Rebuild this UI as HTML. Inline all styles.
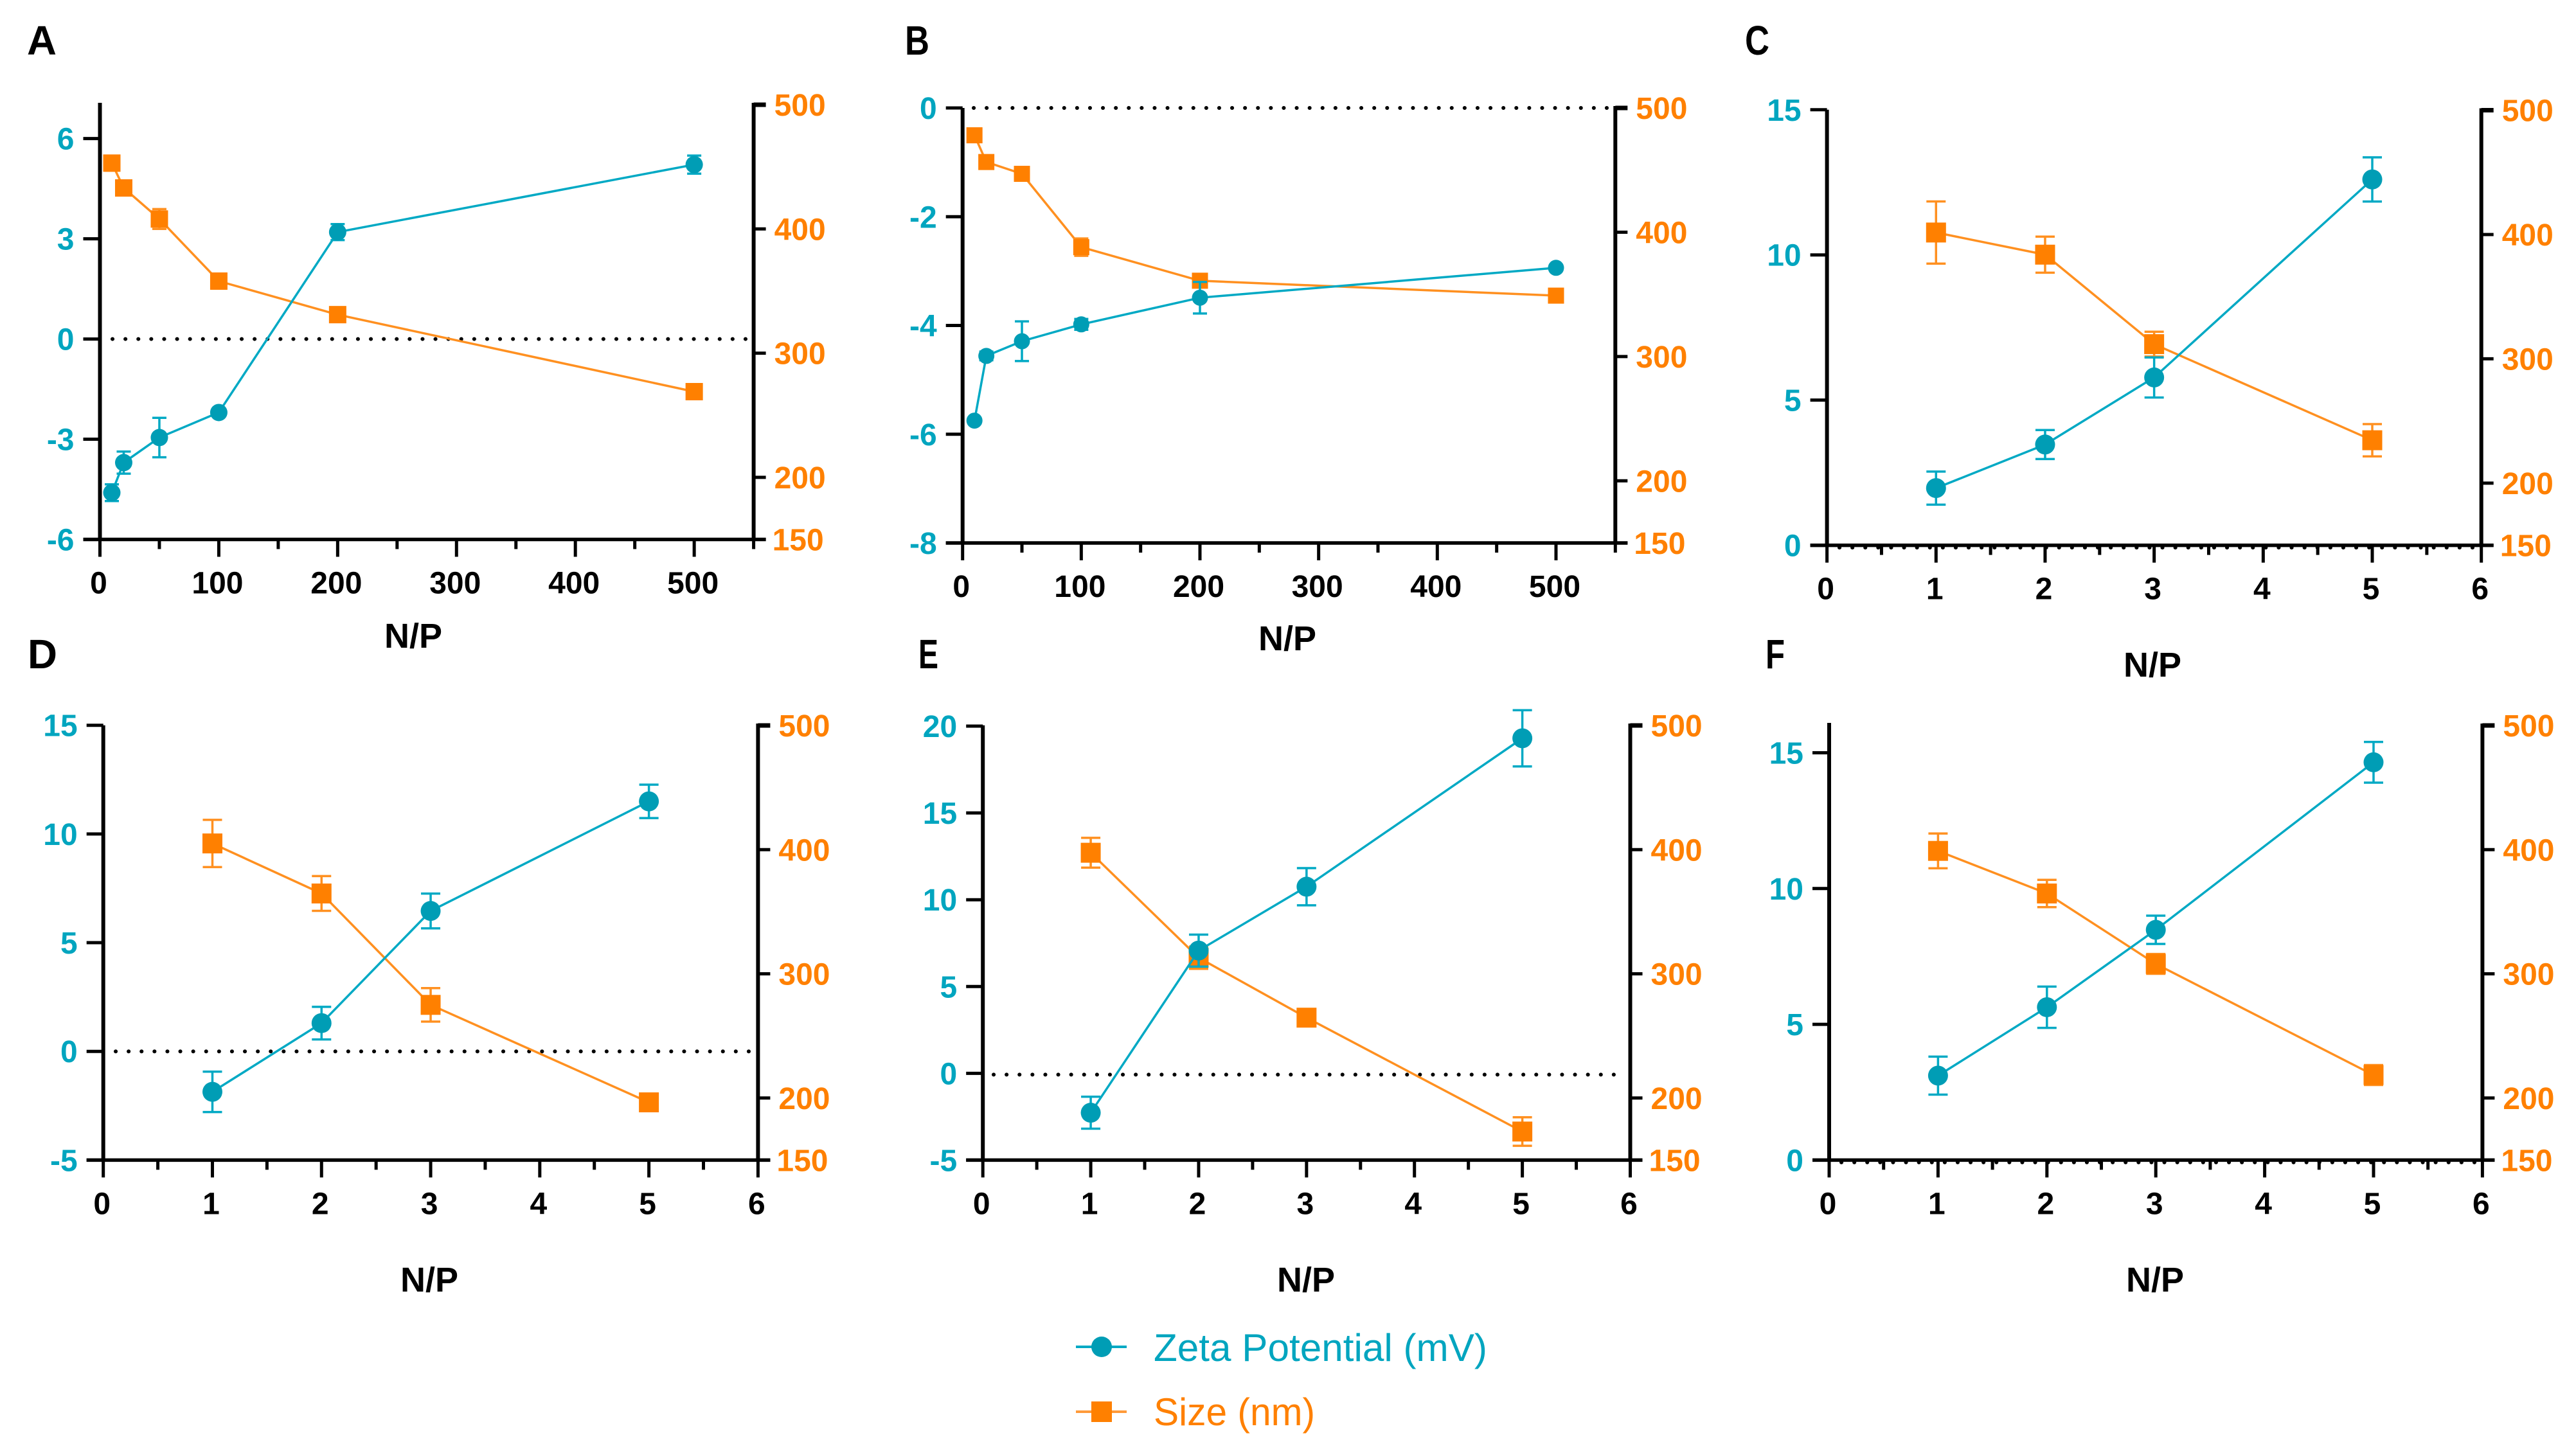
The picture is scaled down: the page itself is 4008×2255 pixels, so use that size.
<!DOCTYPE html>
<html lang="en">
<head>
<meta charset="utf-8">
<title>Zeta Potential and Size versus N/P</title>
<style>
html,body{margin:0;padding:0;background:#fff;}
body{width:4008px;height:2255px;overflow:hidden;position:relative;}
svg{position:absolute;left:0;top:0;display:block;}
text{font-family:"Liberation Sans",Arial,sans-serif;}
</style>
</head>
<body>
<svg id="figure" xmlns="http://www.w3.org/2000/svg" width="4008" height="2255" viewBox="0 0 4008 2255">
  <rect x="0" y="0" width="4008" height="2255" fill="#ffffff"/>
  <g id="charts"></g>
  <text x="42" y="85" font-size="64" font-weight="700" fill="#000" textLength="46" lengthAdjust="spacingAndGlyphs">A</text>
  <text x="1408" y="85" font-size="64" font-weight="700" fill="#000" textLength="38" lengthAdjust="spacingAndGlyphs">B</text>
  <text x="2715" y="85" font-size="64" font-weight="700" fill="#000" textLength="38" lengthAdjust="spacingAndGlyphs">C</text>
  <text x="43" y="1040" font-size="64" font-weight="700" fill="#000" textLength="46" lengthAdjust="spacingAndGlyphs">D</text>
  <text x="1429" y="1040" font-size="64" font-weight="700" fill="#000" textLength="31" lengthAdjust="spacingAndGlyphs">E</text>
  <text x="2747" y="1040" font-size="64" font-weight="700" fill="#000" textLength="30" lengthAdjust="spacingAndGlyphs">F</text>
  <g>
    <g>
      <line x1="1674" y1="2096" x2="1753" y2="2096" stroke="#00A9C4" stroke-width="4"/>
      <circle cx="1714" cy="2096" r="16" fill="#009DB5"/>
      <text x="1795" y="2118" font-size="60" fill="#00A5BF" textLength="519" lengthAdjust="spacingAndGlyphs">Zeta Potential (mV)</text>
    </g>
    <g>
      <line x1="1674" y1="2197" x2="1753" y2="2197" stroke="#FF9A3A" stroke-width="4"/>
      <rect x="1698" y="2181" width="32" height="32" fill="#FF8000"/>
      <text x="1795" y="2218" font-size="60" fill="#FF8000" textLength="251" lengthAdjust="spacingAndGlyphs">Size (nm)</text>
    </g>
  </g>
</svg>
<script>
// ---- shared tick values ----
const sizeTicks = [150, 200, 300, 400, 500];
const wideXTicks = [0, 100, 200, 300, 400, 500];
const wideXMinor = [50, 150, 250, 350, 450, 550];
const narrowXTicks = [0, 1, 2, 3, 4, 5, 6];
const narrowXMinor = [0.5, 1.5, 2.5, 3.5, 4.5, 5.5];

// ---- panel A ----
const aNP = [10, 20, 50, 100, 200, 500];
const aZeta = [-4.6, -3.7, -2.95, -2.2, 3.2, 5.22];
const aZetaErr = [0.25, 0.33, 0.59, 0.1, 0.24, 0.27];
const aSize = [453, 433, 408, 358, 331, 269];
const aSizeErr = [6, 5, 8, 6, 5, 4];
const aZetaTicks = [-6, -3, 0, 3, 6];

// ---- panel B ----
const bNP = [10, 20, 50, 100, 200, 500];
const bZeta = [-5.75, -4.56, -4.29, -3.98, -3.49, -2.94];
const bZetaErr = [0.05, 0.08, 0.365, 0.1, 0.29, 0.05];
const bSize = [478, 456.5, 447, 388, 361, 349];
const bSizeErr = [3, 3, 3, 7, 5, 2];
const bZetaTicks = [-8, -6, -4, -2, 0];

// ---- panel C ----
const cNP = [1, 2, 3, 5];
const cZeta = [1.97, 3.47, 5.78, 12.6];
const cZetaErr = [0.57, 0.5, 0.69, 0.76];
const cSize = [401.6, 383.8, 311.8, 234.5];
const cSizeErr = [25, 14.5, 10, 13];
const cZetaTicks = [0, 5, 10, 15];

// ---- panel D ----
const dNP = [1, 2, 3, 5];
const dZeta = [-1.86, 1.3, 6.46, 11.5];
const dZetaErr = [0.93, 0.75, 0.8, 0.77];
const dSize = [405, 364.7, 275, 196.5];
const dSizeErr = [19, 14, 13.5, 4];
const dZetaTicks = [-5, 0, 5, 10, 15];

// ---- panel E ----
const eNP = [1, 2, 3, 5];
const eZeta = [-2.27, 7.07, 10.75, 19.3];
const eZetaErr = [0.92, 0.92, 1.07, 1.62];
const eSize = [397.5, 313, 264.7, 173];
const eSizeErr = [12, 9, 5, 11.5];
const eZetaTicks = [-5, 0, 5, 10, 15, 20];

// ---- panel F ----
const fNP = [1, 2, 3, 5];
const fZeta = [3.11, 5.63, 8.48, 14.65];
const fZetaErr = [0.7, 0.76, 0.52, 0.75];
const fSize = [399, 364.7, 308, 218.5];
const fSizeErr = [14, 11, 8, 8];
const fZetaTicks = [0, 5, 10, 15];

// ---- layout only (no data values) ----
const wideX = {xMin: 0, xMax: 550, xTicks: wideXTicks, xMinor: wideXMinor};
const narrowX = {xMin: 0, xMax: 6, xTicks: narrowXTicks, xMinor: narrowXMinor};
const panels = [
  {id:'a', axisX:wideX, left:155.5, right:1172.6, top:160, bottom:839.5, rightTop:163, yMin:-6, yMax:7.07, r:13.5, sq:27, cap:22, titleX:643, titleY:1008,
   np:aNP, zeta:aZeta, zetaErr:aZetaErr, size:aSize, sizeErr:aSizeErr, zetaTicks:aZetaTicks, dotFrom:175, dotTo:1160, dotDy:0},
  {id:'b', axisX:wideX, left:1497.7, right:2513.3, top:168, bottom:845, rightTop:168, yMin:-8, yMax:0, r:12.5, sq:25, cap:22, titleX:2003, titleY:1012,
   np:bNP, zeta:bZeta, zetaErr:bZetaErr, size:bSize, sizeErr:bSizeErr, zetaTicks:bZetaTicks, dotFrom:1515, dotTo:2500, dotDy:0},
  {id:'c', axisX:narrowX, left:2842.6, right:3860.7, top:170.8, bottom:848.6, rightTop:171.5, yMin:0, yMax:15, r:15.5, sq:31, cap:30, titleX:3349, titleY:1053,
   np:cNP, zeta:cZeta, zetaErr:cZetaErr, size:cSize, sizeErr:cSizeErr, zetaTicks:cZetaTicks, dotFrom:2862, dotTo:3850, dotDy:3.5},
  {id:'d', axisX:narrowX, left:160.7, right:1179.4, top:1128.7, bottom:1805.4, rightTop:1129, yMin:-5, yMax:15, r:15.5, sq:31, cap:30, titleX:668, titleY:2010,
   np:dNP, zeta:dZeta, zetaErr:dZetaErr, size:dSize, sizeErr:dSizeErr, zetaTicks:dZetaTicks, dotFrom:180, dotTo:1165, dotDy:0},
  {id:'e', axisX:narrowX, left:1529.2, right:2536.5, top:1128.7, bottom:1805.4, rightTop:1129, yMin:-5, yMax:20.05, r:15.5, sq:31, cap:30, titleX:2032, titleY:2010,
   np:eNP, zeta:eZeta, zetaErr:eZetaErr, size:eSize, sizeErr:eSizeErr, zetaTicks:eZetaTicks, dotFrom:1546, dotTo:2525, dotDy:2},
  {id:'f', axisX:narrowX, left:2846, right:3862.4, top:1125, bottom:1805.4, rightTop:1129, yMin:0, yMax:16.1, r:15.5, sq:31, cap:30, titleX:3353, titleY:2010,
   np:fNP, zeta:fZeta, zetaErr:fZetaErr, size:fSize, sizeErr:fSizeErr, zetaTicks:fZetaTicks, dotFrom:2865, dotTo:3855, dotDy:3.5}
];

const SVGNS = 'http://www.w3.org/2000/svg';
const BLUE_TEXT = '#00A5BF', BLUE_LINE = '#00A9C4', BLUE_MARK = '#009DB5';
const ORANGE_TEXT = '#FF8000', ORANGE_LINE = '#FF9020', ORANGE_MARK = '#FF8000';
const SIZE_MIN = 150, SIZE_MAX = 500;
const TICK_FONT = 48;

function make(tag, parent, attrs) {
  const el = document.createElementNS(SVGNS, tag);
  for (const k in attrs) el.setAttribute(k, attrs[k]);
  parent.appendChild(el);
  return el;
}

function drawSeries(group, p, key, xs, ys, errs, sy, lineColor, markColor, isCircle) {
  const x = v => p.sx(v);
  const pts = xs.map((v, i) => x(v).toFixed(1) + ',' + sy(ys[i]).toFixed(1)).join(' ');
  const line = make('polyline', group, {points: pts, fill: 'none', stroke: lineColor, 'stroke-width': 3.5});
  
  
  xs.forEach((v, i) => {
    const cx = x(v), cy = sy(ys[i]), hi = sy(ys[i] + errs[i]), lo = sy(ys[i] - errs[i]), c = p.cap / 2;
    const err = make('path', group, {
      d: 'M' + (cx - c) + ' ' + hi + 'H' + (cx + c) + 'M' + cx + ' ' + hi + 'V' + lo + 'M' + (cx - c) + ' ' + lo + 'H' + (cx + c),
      fill: 'none', stroke: lineColor, 'stroke-width': 3.5
    });
    
    
    let mark;
    if (isCircle) {
      mark = make('circle', group, {cx: cx, cy: cy, r: p.r, fill: markColor});
    } else {
      mark = make('rect', group, {x: cx - p.sq / 2, y: cy - p.sq / 2, width: p.sq, height: p.sq, fill: markColor});
    }
    
    
  });
}

function drawPanel(root, p) {
  const g = make('g', root, {});
  
  

  // axis functions
  const ax = p.axisX;
  p.sx = v => p.left + (v - ax.xMin) / (ax.xMax - ax.xMin) * (p.right - p.left);
  const syL = v => p.bottom - (v - p.yMin) / (p.yMax - p.yMin) * (p.bottom - p.top);
  const syR = v => p.bottom - (v - SIZE_MIN) / (SIZE_MAX - SIZE_MIN) * (p.bottom - p.rightTop);

  // zero reference line
  const zero = make('line', g, {x1: p.dotFrom, x2: p.dotTo, y1: syL(0) + p.dotDy, y2: syL(0) + p.dotDy, stroke: '#000', 'stroke-width': 6, 'stroke-linecap': 'round', 'stroke-dasharray': '0.1 20'});
  
  

  // axis lines
  const axisLeft = make('line', g, {x1: p.left, x2: p.left, y1: p.top, y2: p.bottom + 2.5, stroke: '#000', 'stroke-width': 6});
  
  
  const axisRight = make('line', g, {x1: p.right, x2: p.right, y1: p.rightTop - 3, y2: p.bottom + 2.5, stroke: '#000', 'stroke-width': 6});
  
  
  const axisBottom = make('line', g, {x1: p.left - 26, x2: p.right + 19, y1: p.bottom, y2: p.bottom, stroke: '#000', 'stroke-width': 5.5});
  
  

  // x ticks and labels
  ax.xTicks.forEach(v => {
    const t = make('line', g, {x1: p.sx(v), x2: p.sx(v), y1: p.bottom, y2: p.bottom + 27, stroke: '#000', 'stroke-width': 5});
    
    
    const l = make('text', g, {x: p.sx(v) - 2, y: p.bottom + 84, 'text-anchor': 'middle', 'font-size': TICK_FONT, 'font-weight': 700, fill: '#000'});
    l.textContent = String(v);
    
    
  });
  ax.xMinor.forEach(v => {
    const t = make('line', g, {x1: p.sx(v), x2: p.sx(v), y1: p.bottom, y2: p.bottom + 15, stroke: '#000', 'stroke-width': 5});
    
    
  });

  // left ticks and labels
  p.zetaTicks.forEach(v => {
    const t = make('line', g, {x1: p.left - 26, x2: p.left, y1: syL(v), y2: syL(v), stroke: '#000', 'stroke-width': 5});
    
    
    const l = make('text', g, {x: p.left - 40, y: syL(v) + 17, 'text-anchor': 'end', 'font-size': TICK_FONT, 'font-weight': 700, fill: BLUE_TEXT});
    l.textContent = String(v);
    
    
  });

  // right ticks and labels
  sizeTicks.forEach(v => {
    const t = make('line', g, {x1: p.right, x2: p.right + 19, y1: syR(v), y2: syR(v), stroke: '#000', 'stroke-width': v === 500 ? 7 : 5});
    
    
    const l = make('text', g, {x: p.right + (v === 150 ? 29 : 32), y: syR(v) + 17, 'text-anchor': 'start', 'font-size': TICK_FONT, 'font-weight': 700, fill: ORANGE_TEXT});
    l.textContent = String(v);
    
    
  });

  // axis title
  const title = make('text', g, {x: p.titleX, y: p.titleY, 'text-anchor': 'middle', 'font-size': 54, 'font-weight': 700, fill: '#000'});
  title.textContent = 'N/P';
  
  

  // series
  const sizeGroup = make('g', g, {});
  
  
  drawSeries(sizeGroup, p, 'size', p.np, p.size, p.sizeErr, syR, ORANGE_LINE, ORANGE_MARK, false);
  const zetaGroup = make('g', g, {});
  
  
  drawSeries(zetaGroup, p, 'zeta', p.np, p.zeta, p.zetaErr, syL, BLUE_LINE, BLUE_MARK, true);
}

const chartsRoot = document.getElementById('charts');
panels.forEach(p => drawPanel(chartsRoot, p));
</script>
</body>
</html>
